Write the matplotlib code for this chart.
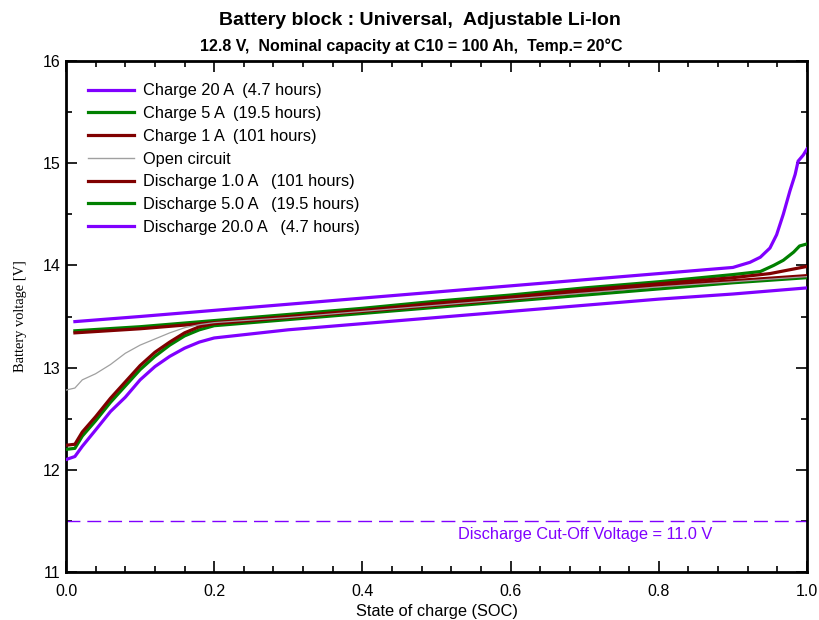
import matplotlib
matplotlib.use("Agg")
import matplotlib.pyplot as plt
from matplotlib.ticker import MultipleLocator

plt.rcParams['font.family'] = ['Liberation Sans', 'DejaVu Sans']

# ---- data ----
soc_c20 = [0.012, 0.1, 0.2, 0.3, 0.4, 0.5, 0.6, 0.7, 0.8, 0.9, 0.923, 0.937, 0.950,
           0.959, 0.968, 0.977, 0.984, 0.988, 0.995, 1.0]
v_c20 = [13.45, 13.50, 13.56, 13.62, 13.68, 13.74, 13.80, 13.86, 13.92, 13.98, 14.03,
         14.08, 14.17, 14.30, 14.50, 14.73, 14.89, 15.02, 15.08, 15.14]

soc_c5 = [0.012, 0.1, 0.2, 0.3, 0.4, 0.5, 0.6, 0.7, 0.8, 0.9, 0.937, 0.955, 0.968,
          0.982, 0.99, 1.0]
v_c5 = [13.36, 13.40, 13.46, 13.52, 13.58, 13.65, 13.71, 13.78, 13.84, 13.91, 13.94,
        14.00, 14.05, 14.13, 14.19, 14.21]

soc_c1 = [0.012, 0.1, 0.2, 0.3, 0.4, 0.5, 0.6, 0.7, 0.8, 0.9, 0.95, 1.0]
v_c1 = [13.34, 13.38, 13.44, 13.50, 13.56, 13.63, 13.69, 13.76, 13.82, 13.88, 13.92, 13.99]

soc_oc = [0.0, 0.012, 0.022, 0.04, 0.06, 0.08, 0.1, 0.12, 0.14, 0.16, 0.18, 0.2,
          0.3, 0.4, 0.5, 0.6, 0.7, 0.8, 0.9, 1.0]
v_oc = [12.78, 12.80, 12.88, 12.94, 13.03, 13.14, 13.22, 13.28, 13.34, 13.39, 13.42, 13.44,
        13.49, 13.55, 13.61, 13.67, 13.73, 13.79, 13.84, 13.89]

soc_d = [0.0, 0.012, 0.022, 0.04, 0.06, 0.08, 0.1, 0.12, 0.14, 0.16, 0.18, 0.2,
         0.3, 0.4, 0.5, 0.6, 0.7, 0.8, 0.9, 1.0]
v_d1 = [12.24, 12.25, 12.37, 12.52, 12.70, 12.86, 13.02, 13.15, 13.25, 13.34, 13.40, 13.43,
        13.49, 13.55, 13.61, 13.67, 13.74, 13.80, 13.85, 13.90]
v_d5 = [12.20, 12.21, 12.33, 12.48, 12.66, 12.82, 12.98, 13.11, 13.22, 13.31, 13.37, 13.41,
        13.47, 13.53, 13.59, 13.65, 13.71, 13.77, 13.83, 13.88]
v_d20 = [12.10, 12.13, 12.23, 12.39, 12.57, 12.71, 12.88, 13.01, 13.11, 13.19, 13.25, 13.29,
         13.37, 13.43, 13.49, 13.55, 13.61, 13.67, 13.72, 13.78]

cutoff_v = 11.5

labels = ["Charge 20 A  (4.7 hours)", "Charge 5 A  (19.5 hours)", "Charge 1 A  (101 hours)",
          "Open circuit", "Discharge 1.0 A   (101 hours)", "Discharge 5.0 A   (19.5 hours)",
          "Discharge 20.0 A   (4.7 hours)"]

PURPLE = "#8000ff"
GREEN = "#008000"
RED = "#800000"
GRAY = "#a0a0a0"

fig = plt.figure(figsize=(8.19, 6.2), dpi=100)
ax = fig.add_axes([66/819, 1-572/620, (807-66)/819, (572-61)/620])

lw = 2.3
h1, = ax.plot(soc_c20, v_c20, color=PURPLE, lw=lw, zorder=5)
h2, = ax.plot(soc_c5, v_c5, color=GREEN, lw=lw, zorder=3)
h3, = ax.plot(soc_c1, v_c1, color=RED, lw=lw, zorder=4)
h4, = ax.plot(soc_oc, v_oc, color=GRAY, lw=0.9, zorder=4.5)
h5, = ax.plot(soc_d, v_d1, color=RED, lw=lw, zorder=4)
h6, = ax.plot(soc_d, v_d5, color=GREEN, lw=lw, zorder=3)
h7, = ax.plot(soc_d, v_d20, color=PURPLE, lw=lw, zorder=5)

ax.axhline(cutoff_v, color=PURPLE, lw=1.0, dashes=(10, 5))
ax.text(0.701, cutoff_v - 0.06, "Discharge Cut-Off Voltage = 11.0 V", color=PURPLE,
        fontsize=11.8, ha="center", va="top")

leg = ax.legend([h1, h2, h3, h4, h5, h6, h7], labels, loc="upper left", frameon=False,
                fontsize=11.8, handlelength=2.75, handletextpad=0.6, labelspacing=0.47,
                bbox_to_anchor=(0.0, 1.0), borderaxespad=0.97)
for line in leg.get_lines():
    line.set_linewidth(2.3)
leg.get_lines()[3].set_linewidth(1.0)

ax.set_xlim(0, 1.0)
ax.set_ylim(11, 16)
ax.xaxis.set_major_locator(MultipleLocator(0.2))
ax.xaxis.set_minor_locator(MultipleLocator(0.04))
ax.yaxis.set_major_locator(MultipleLocator(1))
ax.yaxis.set_minor_locator(MultipleLocator(0.5))
ax.xaxis.set_major_formatter(plt.FuncFormatter(lambda v, p: f"{v:.1f}"))
ax.yaxis.set_major_formatter(plt.FuncFormatter(lambda v, p: f"{v:.0f}"))
ax.tick_params(which="both", direction="in", top=True, right=True, labelsize=11.5,
               color="black", width=1.2)
ax.tick_params(which="major", length=8, pad=4)
ax.tick_params(axis="x", which="major", pad=9)
ax.tick_params(which="minor", length=4)
for s in ax.spines.values():
    s.set_linewidth(2)

ax.set_xlabel("State of charge (SOC)", fontsize=11.8, labelpad=3)
ax.set_ylabel("Battery voltage [V]", fontsize=10.4, family=["Liberation Serif", "DejaVu Serif"],
              labelpad=11)

fig.text(0.513, 0.967, "Battery block : Universal,  Adjustable Li-Ion", ha="center",
         va="center", fontsize=14, fontweight="bold",
         family=["Liberation Sans Narrow", "Liberation Sans", "DejaVu Sans"])
fig.text(0.502, 0.926, "12.8 V,  Nominal capacity at C10 = 100 Ah,  Temp.= 20°C", ha="center",
         va="center", fontsize=11.5, fontweight="bold",
         family=["Liberation Sans Narrow", "Liberation Sans", "DejaVu Sans"])

fig.savefig("out.png", dpi=100)
